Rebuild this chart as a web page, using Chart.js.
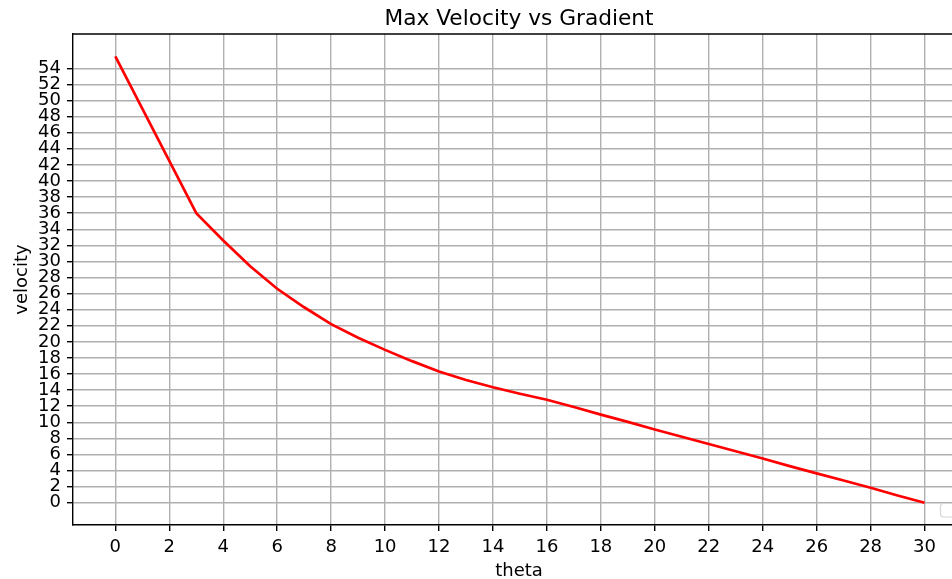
<!DOCTYPE html>
<html>
<head>
<meta charset="utf-8">
<title>Max Velocity vs Gradient</title>
<script src="https://cdn.jsdelivr.net/npm/chart.js@4.4.0/dist/chart.umd.min.js"></script>
<style>
  html, body { margin: 0; padding: 0; overflow: hidden; background: #fff; }
  #wrap { width: 965px; height: 582px; }
</style>
</head>
<body>
<div id="wrap"><canvas id="velocityChart" width="965" height="582"></canvas></div>
<script>
const theta = [0, 1, 2, 3, 4, 5, 6, 7, 8, 9, 10, 11, 12, 13, 14, 15,
               16, 17, 18, 19, 20, 21, 22, 23, 24, 25, 26, 27, 28, 29, 30];
const velocity = [55.5, 49.0, 42.5, 36.0, 32.6, 29.4, 26.6, 24.3, 22.2, 20.5, 19.0, 17.6, 16.3, 15.25, 14.35, 13.55,
                  12.8, 11.9, 10.95, 10.05, 9.1, 8.2, 7.3, 6.4, 5.5, 4.55, 3.65, 2.75, 1.85, 0.9, 0.0];
const xTicks = [0, 2, 4, 6, 8, 10, 12, 14, 16, 18, 20, 22, 24, 26, 28, 30];
const yTicks = [0, 2, 4, 6, 8, 10, 12, 14, 16, 18, 20, 22, 24, 26, 28, 30,
                32, 34, 36, 38, 40, 42, 44, 46, 48, 50, 52, 54];

Chart.defaults.font.family = "'DejaVu Sans', sans-serif";
Chart.defaults.color = '#000';

const GRID = '#b0b0b0';
const LW = 1.4;

// title centred over the plot area, plus the frame's top edge
const framePlugin = {
  id: 'frame',
  afterDraw(chart) {
    const { ctx, chartArea: a } = chart;
    ctx.save();
    ctx.strokeStyle = '#000';
    ctx.lineWidth = LW;
    ctx.beginPath();
    ctx.moveTo(a.left, a.top);
    ctx.lineTo(a.right, a.top);
    ctx.stroke();

    ctx.fillStyle = '#000';
    ctx.font = "21.7px 'DejaVu Sans'";
    ctx.textAlign = 'center';
    ctx.textBaseline = 'alphabetic';
    ctx.fillText('Max Velocity vs Gradient', (a.left + a.right) / 2, 24.5);

    // empty legend frame in the lower right corner
    ctx.fillStyle = 'rgba(255,255,255,0.8)';
    ctx.strokeStyle = '#d6d6d6';
    ctx.lineWidth = 1.2;
    ctx.beginPath();
    ctx.roundRect(a.right - 24.5, a.bottom - 21.5, 18, 13.5, 3);
    ctx.fill();
    ctx.stroke();
    ctx.restore();
  }
};

const ctx = document.getElementById('velocityChart').getContext('2d');
new Chart(ctx, {
  type: 'line',
  data: {
    datasets: [{
      data: theta.map((t, i) => ({ x: t, y: velocity[i] })),
      borderColor: '#ff0000',
      borderWidth: 2.7,
      pointRadius: 0,
      tension: 0,
      fill: false
    }]
  },
  options: {
    responsive: false,
    animation: false,
    devicePixelRatio: 1,
    layout: { padding: { top: 34, left: 0, right: 0, bottom: 0 } },
    plugins: {
      legend: { display: false },
      tooltip: { enabled: false },
      title: { display: false }
    },
    scales: {
      x: {
        type: 'linear',
        min: -1.57,
        max: 31.5,
        afterBuildTicks: s => { s.ticks = xTicks.map(v => ({ value: v })); },
        afterFit: s => { s.height = 57; },
        grid: { color: GRID, lineWidth: LW, tickColor: '#000', tickLength: 6, tickWidth: LW },
        border: { color: '#000', width: LW },
        ticks: { font: { size: 18 }, padding: 6, maxRotation: 0, autoSkip: false },
        title: { display: true, text: 'theta', font: { size: 18 }, padding: { top: 0, bottom: 0 } }
      },
      y: {
        type: 'linear',
        min: -2.775,
        max: 58.275,
        afterBuildTicks: s => { s.ticks = yTicks.map(v => ({ value: v })); },
        afterFit: s => { s.width = 73; },
        grid: { color: GRID, lineWidth: LW, tickColor: '#000', tickLength: 6, tickWidth: LW },
        border: { color: '#000', width: LW },
        ticks: { font: { size: 18 }, padding: 6, autoSkip: false },
        title: { display: true, text: 'velocity', font: { size: 18 }, padding: { top: 12, bottom: 0 } }
      }
    }
  },
  plugins: [framePlugin]
});
</script>
</body>
</html>
